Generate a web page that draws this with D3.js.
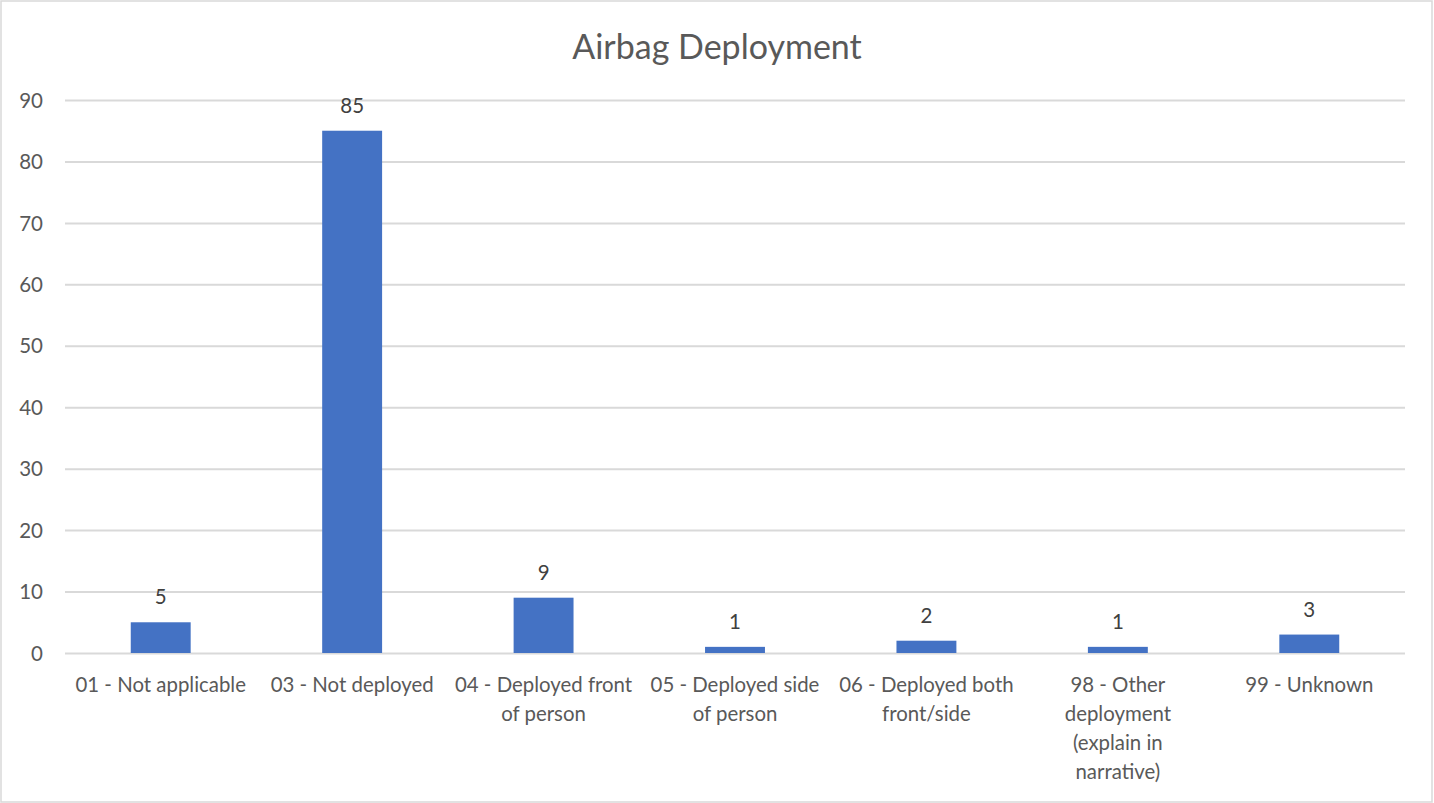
<!DOCTYPE html>
<html><head><meta charset="utf-8">
<script src="https://cdn.jsdelivr.net/npm/d3@7"></script>
<style>body{margin:0;background:#fff}svg{display:block}text{font-family:Lato,"Open Sans",sans-serif}</style>
</head><body>
<script>
const title = "Airbag Deployment";
const categories = ["01 - Not applicable","03 - Not deployed","04 - Deployed front of person","05 - Deployed side of person","06 - Deployed both front/side","98 - Other deployment (explain in narrative)","99 - Unknown"];
const categoryLines = [["01 - Not applicable"],["03 - Not deployed"],["04 - Deployed front","of person"],["05 - Deployed side","of person"],["06 - Deployed both","front/side"],["98 - Other","deployment","(explain in","narrative)"],["99 - Unknown"]];
const values = [5,85,9,1,2,1,3];
const yTicks = [0,10,20,30,40,50,60,70,80,90];

const W=1434,H=803;
const svg=d3.select("body").append("svg").attr("width",W).attr("height",H);
svg.append("rect").attr("x",1).attr("y",1).attr("width",W-3).attr("height",H-2).attr("fill","#fff").attr("stroke","#d9d9d9").attr("stroke-width",1.5);

const x=d3.scaleBand().domain(categories).range([65,1405]).paddingInner(0.687).paddingOuter(0.3435);
const y=d3.scaleLinear().domain([0,90]).range([653,100]);

svg.append("text").attr("x",717).attr("y",59).attr("text-anchor","middle").attr("font-size",34).attr("fill","#595959").text(title);

const yAxis=d3.axisLeft(y).tickValues(yTicks).tickSize(-(1405-65)).tickFormat(d3.format("d"));
const gy=svg.append("g").attr("transform","translate(65,0)").call(yAxis);
gy.select(".domain").remove();
gy.selectAll(".tick line").attr("stroke","#d9d9d9").attr("stroke-width",2);
gy.selectAll(".tick text").attr("x",-22).attr("font-size",20.5).attr("fill","#595959").attr("dy","0.35em");

svg.append("g").selectAll("rect").data(values).join("rect")
 .attr("x",(d,i)=>x(categories[i])).attr("width",x.bandwidth())
 .attr("y",d=>y(d)).attr("height",d=>y(0)-y(d)).attr("fill","#4472c4");

svg.append("g").selectAll("text").data(values).join("text")
 .attr("x",(d,i)=>x(categories[i])+x.bandwidth()/2).attr("y",d=>y(d)-18)
 .attr("text-anchor","middle").attr("font-size",20.5).attr("fill","#404040").text(d=>d);

const gx=svg.append("g");
categories.forEach((c,i)=>{
  const t=gx.append("text").attr("text-anchor","middle").attr("font-size",20.4).attr("fill","#595959");
  categoryLines[i].forEach((ln,j)=>{
    t.append("tspan").attr("x",x(c)+x.bandwidth()/2).attr("y",692+29*j).text(ln);
  });
});
</script>
</body></html>
